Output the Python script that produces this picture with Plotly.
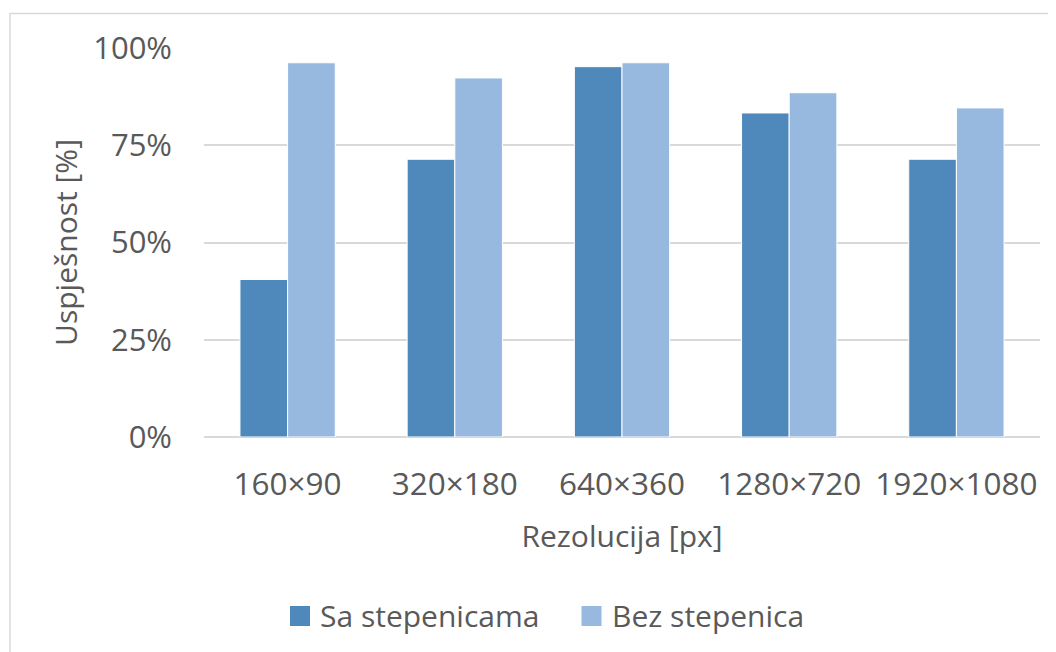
import plotly.graph_objects as go

categories = ["160×90", "320×180", "640×360", "1280×720", "1920×1080"]
sa_stepenicama = [0.405, 0.714, 0.952, 0.833, 0.714]
bez_stepenica = [0.962, 0.923, 0.962, 0.885, 0.846]
y_ticks = [0, 0.25, 0.5, 0.75, 1.0]
y_ticklabels = ["0%", "25%", "50%", "75%", "100%"]
series_names = ["Sa stepenicama", "Bez stepenica"]
series_colors = ["#4F89BB", "#97B9E0"]

FONT = "Open Sans"
GRAY = "#595959"

fig = go.Figure()
for name, vals, col in zip(series_names, [sa_stepenicama, bez_stepenica], series_colors):
    fig.add_trace(go.Bar(x=categories, y=vals, name=name,
                         marker=dict(color=col, line=dict(color="white", width=1))))

OFF = 8  # browser body margin
W, H = 1056 - OFF, 652 - OFF
L, R, T, B = 204 - OFF, 16, 48 - OFF, 215
pw, ph = W - L - R, H - T - B

def px(x):
    return (x - OFF - L) / pw

def py(y):
    return (H - B - (y - OFF)) / ph

shapes = [dict(type="rect", xref="paper", yref="paper",
               x0=px(10), x1=px(1064), y0=py(668), y1=py(13.5),
               line=dict(color="#D9D9D9", width=1.5), fillcolor="rgba(0,0,0,0)", layer="below")]
annotations = []
legend_items = [(290, 310, 318), (581.5, 601.5, 610)]
for (sx0, sx1, tx), name, col in zip(legend_items, series_names, series_colors):
    shapes.append(dict(type="rect", xref="paper", yref="paper",
                       x0=px(sx0), x1=px(sx1), y0=py(626), y1=py(606),
                       line=dict(width=0), fillcolor=col))
    annotations.append(dict(text=name, xref="paper", yref="paper", x=px(tx), y=py(615),
                            xanchor="left", yanchor="middle", showarrow=False,
                            font=dict(size=30, color=GRAY, family=FONT)))

fig.update_layout(
    width=W, height=H,
    margin=dict(l=L, r=R, t=T, b=B),
    plot_bgcolor="white", paper_bgcolor="white",
    font=dict(family=FONT, color=GRAY, size=28),
    barmode="group", bargap=0.43, bargroupgap=0,
    showlegend=False,
    xaxis=dict(showgrid=False, showline=False, ticks="", automargin=False,
               ticklabelstandoff=25,
               tickfont=dict(size=31.5, color=GRAY),
               title=dict(text="Rezolucija [px]", font=dict(size=30, color=GRAY), standoff=23)),
    yaxis=dict(range=[0, 1.0], tickvals=y_ticks, ticktext=y_ticklabels, automargin=False,
               showgrid=True, gridcolor="#D9D9D9", gridwidth=1.5,
               zeroline=True, zerolinecolor="#D9D9D9", zerolinewidth=1.5,
               showline=False, ticks="", ticklabelstandoff=31,
               tickfont=dict(size=31, color=GRAY),
               title=dict(text="Uspješnost [%]", font=dict(size=30, color=GRAY), standoff=6)),
    shapes=shapes,
    annotations=annotations,
)

fig.write_html("out.html")
